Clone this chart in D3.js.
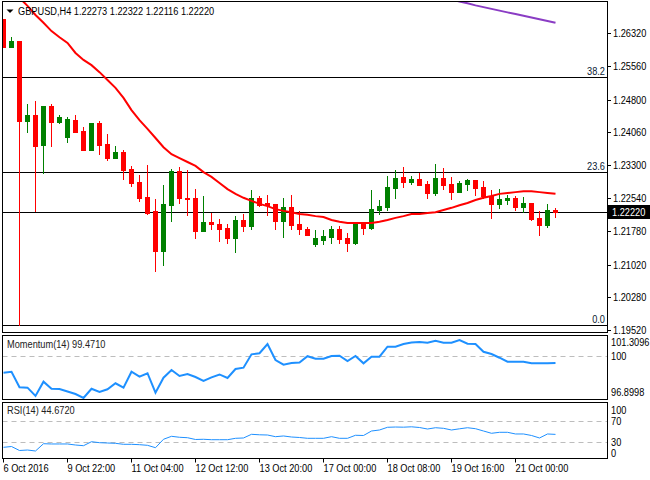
<!DOCTYPE html>
<html>
<head>
<meta charset="utf-8">
<script src="https://cdn.jsdelivr.net/npm/d3@7"></script>
<style>
  body { margin: 0; background: #fff; }
  svg { display: block; font-family: "Liberation Sans", Arial, sans-serif; font-size: 11px; }
</style>
</head>
<body>
<svg width="650" height="480"></svg>
<script>
const svg = d3.select('svg');

// DATA (H4 bars)
const opens = [1.2665,1.2601,1.2614,1.2431,1.2445,1.2376,1.2465,1.2429,1.2394,1.2433,
  1.2408,1.2365,1.2426,1.2378,1.2346,1.2360,1.2321,1.2291,1.2257,1.2225,
  1.2133,1.2238,1.2316,1.2255,1.2255,1.2179,1.2200,1.2195,1.2186,1.2163,
  1.2204,1.2190,1.2255,1.2243,1.2241,1.2202,1.2234,1.2195,1.2183,1.2149,
  1.2158,1.2165,1.2183,1.2163,1.2151,1.2195,1.2186,1.2227,1.2234,1.2277,
  1.2303,1.2291,1.2298,1.2287,1.2266,1.2300,1.2287,1.2268,1.2287,1.2296,
  1.2280,1.2259,1.2241,1.2250,1.2255,1.2234,1.2243,1.2209,1.2193,1.22273];
const highs = [1.2665,1.2623,1.2614,1.2470,1.2477,1.2465,1.2470,1.2445,1.2440,1.2445,
  1.2417,1.2426,1.2431,1.2401,1.2374,1.2365,1.2328,1.2307,1.2330,1.2252,
  1.2284,1.2321,1.2326,1.2319,1.2275,1.2259,1.2220,1.2206,1.2195,1.2213,
  1.2218,1.2273,1.2259,1.2261,1.2241,1.2255,1.2261,1.2225,1.2188,1.2181,
  1.2181,1.2190,1.2190,1.2174,1.2197,1.2195,1.2273,1.2250,1.2305,1.2319,
  1.2326,1.2305,1.2312,1.2293,1.2332,1.2323,1.2303,1.2293,1.2298,1.2296,
  1.2293,1.2273,1.2275,1.2261,1.2259,1.2257,1.2243,1.2225,1.2241,1.22322];
const lows = [1.2601,1.2601,1.1963,1.2406,1.2225,1.2312,1.2374,1.2426,1.2383,1.2406,
  1.2365,1.2365,1.2355,1.2342,1.2346,1.2298,1.2282,1.2248,1.2218,1.2087,
  1.2101,1.2202,1.2243,1.2216,1.2163,1.2179,1.2183,1.2156,1.2151,1.2131,
  1.2179,1.2183,1.2236,1.2216,1.2183,1.2165,1.2183,1.2172,1.2170,1.2145,
  1.2149,1.2151,1.2151,1.2133,1.2149,1.2172,1.2183,1.2218,1.2227,1.2255,
  1.2280,1.2287,1.2284,1.2255,1.2261,1.2275,1.2252,1.2268,1.2273,1.2261,
  1.2255,1.2209,1.2232,1.2241,1.2227,1.2222,1.2204,1.2170,1.2188,1.22116];
const closes = [1.2601,1.2614,1.2431,1.2445,1.2374,1.2465,1.2429,1.2440,1.2436,1.2406,
  1.2365,1.2426,1.2376,1.2346,1.2360,1.2319,1.2289,1.2255,1.2220,1.2133,
  1.2241,1.2316,1.2255,1.2252,1.2179,1.2200,1.2195,1.2183,1.2163,1.2204,
  1.2190,1.2255,1.2238,1.2238,1.2202,1.2234,1.2193,1.2183,1.2170,1.2163,
  1.2167,1.2183,1.2161,1.2151,1.2195,1.2186,1.2229,1.2236,1.2280,1.2300,
  1.2291,1.2298,1.2284,1.2266,1.2300,1.2284,1.2268,1.2289,1.2296,1.2277,
  1.2259,1.2241,1.2252,1.2255,1.2234,1.2243,1.2206,1.2193,1.2227,1.22220];

// moving averages
const maFast = [1.2752,1.2731,1.2713,1.2695,1.2674,1.2656,1.2637,1.2623,1.2610,1.2587,
  1.2571,1.2559,1.2543,1.2525,1.2507,1.2484,1.2456,1.2433,1.2413,1.2392,
  1.2371,1.2355,1.2346,1.2337,1.2328,1.2314,1.2303,1.2289,1.2275,1.2264,
  1.2255,1.2248,1.2241,1.2236,1.2229,1.2225,1.2222,1.2218,1.2216,1.2213,
  1.2211,1.2204,1.2200,1.2197,1.2197,1.2197,1.2197,1.2200,1.2204,1.2209,
  1.2213,1.2218,1.2218,1.2220,1.2222,1.2227,1.2232,1.2238,1.2243,1.2250,
  1.2255,1.2259,1.2264,1.2266,1.2268,1.2270,1.2270,1.2268,1.2266,1.2264];
const maSlowStart = 56;
const maSlow = [1.2709,1.2705,1.2701,1.2696,1.2692,1.2688,1.2684,1.2680,1.2676,1.2672,
  1.2668,1.2664,1.2660,1.2656];

const momentum = [98.76,98.83,97.69,97.66,97.05,98.10,97.58,97.56,97.38,97.19,
  96.90,97.58,97.34,97.54,97.98,97.66,98.83,98.47,98.72,97.29,
  98.39,98.96,98.52,98.66,98.44,98.15,98.42,98.63,98.37,99.03,
  99.13,100.11,100.19,100.87,99.69,99.35,99.47,99.51,99.97,99.79,
  99.79,99.99,100.01,99.62,99.99,99.45,99.94,99.94,100.67,100.67,
  100.87,100.98,101.02,100.96,101.11,100.96,100.96,101.16,100.89,100.87,
  100.30,100.13,99.86,99.57,99.57,99.57,99.45,99.45,99.45,99.471];
const rsi = [20.7,22.2,14.8,15.7,13.9,27.4,26.9,26.9,26.9,25.0,
  23.7,31.1,29.3,28.7,28.1,26.3,26.3,25.6,24.4,20.0,
  35.6,41.1,39.3,38.5,35.2,35.6,34.8,34.8,34.8,37.4,
  38.0,44.8,43.9,43.5,40.4,41.7,39.8,38.9,37.4,37.4,
  37.4,40.4,37.4,37.4,43.0,42.6,50.9,52.8,57.8,58.3,
  58.0,58.7,57.4,54.6,57.0,55.9,52.8,55.0,57.0,55.2,
  50.9,46.7,48.5,48.5,45.4,45.4,42.6,38.0,45.4,44.672];

// fibonacci retracement
const fibLow = 1.1963;
const fibHigh = 1.3450;
const fibLevels = [0.0, 23.6, 38.2];

// axis labels
const priceTicks = [1.26320,1.25560,1.24800,1.24060,1.23300,1.22540,1.21780,1.21020,1.20280,1.19520];
const momTicks = [101.3096, 100, 96.8998];
const rsiTicks = [100, 70, 30, 0];
const timeLabels = ['6 Oct 2016','9 Oct 22:00','11 Oct 04:00','12 Oct 12:00','13 Oct 20:00',
  '17 Oct 00:00','18 Oct 08:00','19 Oct 16:00','21 Oct 00:00'];
const timeBars = [0, 8, 16, 24, 32, 40, 48, 56, 64];

// LAYOUT
const left = 2.5, right = 607.5;
const mainTop = 1.5, mainBottom = 332.5;
const momTop = 335.5, momBottom = 399.5;
const rsiTop = 402.5, rsiBottom = 458.5;
const last = closes.length - 1;
const squeeze = 0.84; // narrow terminal font

const x = d3.scaleLinear().domain([0, last]).range([3.5, 3.5 + 8 * last]);
const y = d3.scaleLinear().domain([priceTicks[priceTicks.length - 1], priceTicks[0]]).range([330, 33.3]);
const yMom = d3.scaleLinear().domain([momTicks[2], momTicks[0]]).range([398, 338]);
const yRsi = d3.scaleLinear().domain([0, 100]).range([458.5, 404.5]);

function label(parent, tx, ty, str, fill, anchor, dy) {
  return parent.append('text')
    .attr('transform', `translate(${tx},${ty}) scale(${squeeze},1)`)
    .attr('text-anchor', anchor || 'start')
    .attr('dy', dy || 0)
    .attr('fill', fill || '#000')
    .text(str);
}

const defs = svg.append('defs');
function clip(id, y0, y1) {
  defs.append('clipPath').attr('id', id)
    .append('rect')
      .attr('x', left + 0.5).attr('y', y0 + 0.5)
      .attr('width', right - left - 1).attr('height', y1 - y0 - 1);
}
clip('cMain', mainTop, mainBottom);
clip('cMom', momTop, momBottom);
clip('cRsi', rsiTop, rsiBottom);

// MAIN PANEL
const main = svg.append('g').attr('clip-path', 'url(#cMain)');

// fib lines + bid line
fibLevels.forEach(lv => {
  const yy = Math.round(y(fibLow + (fibHigh - fibLow) * lv / 100)) + 0.5;
  main.append('line')
    .attr('x1', left).attr('x2', right).attr('y1', yy).attr('y2', yy)
    .attr('stroke', '#000').attr('stroke-width', 1);
  label(main, right - 2.5, yy - 2.5, lv.toFixed(1), '#0a1a33', 'end');
});
const bidY = Math.round(y(closes[last])) + 0.5;
main.append('line')
  .attr('x1', left).attr('x2', right).attr('y1', bidY).attr('y2', bidY)
  .attr('stroke', '#000').attr('stroke-width', 1);

// candles
const bars = main.append('g').attr('shape-rendering', 'crispEdges');
closes.forEach((c, i) => {
  const o = opens[i];
  const col = c > o ? '#008000' : '#ff0000';
  const hi = Math.round(y(highs[i])), lo = Math.round(y(lows[i]));
  bars.append('rect')
    .attr('x', x(i) - 0.5).attr('width', 1)
    .attr('y', hi).attr('height', Math.max(1, lo - hi + 1))
    .attr('fill', col);
  const bt = Math.round(y(Math.max(o, c))), bb = Math.round(y(Math.min(o, c)));
  bars.append('rect')
    .attr('x', x(i) - 2.5).attr('width', 5)
    .attr('y', bt).attr('height', Math.max(1, bb - bt + 1))
    .attr('fill', col);
});

// moving averages
const priceLine = d3.line().x(d => x(d[0])).y(d => y(d[1]));
main.append('path')
  .attr('d', priceLine(maFast.map((v, i) => [i, v])))
  .attr('fill', 'none').attr('stroke', '#ff0000').attr('stroke-width', 2);
main.append('path')
  .attr('d', priceLine(maSlow.map((v, i) => [i + maSlowStart, v])))
  .attr('fill', 'none').attr('stroke', '#8a3cc4').attr('stroke-width', 2);

// title
svg.append('path').attr('d', 'M6.5,9.5 L13.5,9.5 L10,13 Z').attr('fill', '#000');
const f5 = d3.format('.5f');
label(svg, 18, 15, `GBPUSD,H4  ${f5(opens[last])} ${f5(highs[last])} ${f5(lows[last])} ${f5(closes[last])}`);

// price axis
priceTicks.forEach(p => {
  const yy = Math.round(y(p)) + 0.5;
  svg.append('line').attr('x1', right).attr('x2', right + 3.5).attr('y1', yy).attr('y2', yy)
    .attr('stroke', '#000');
  label(svg, 613, yy, p.toFixed(5), '#000', 'start', '0.35em');
});
svg.append('rect').attr('x', 608).attr('y', bidY - 7.5).attr('width', 42).attr('height', 14)
  .attr('fill', '#000');
label(svg, 612, bidY, f5(closes[last]), '#fff', 'start', '0.35em');

// MOMENTUM PANEL
const mom = svg.append('g').attr('clip-path', 'url(#cMom)');
const m100 = Math.round(yMom(100)) + 0.5;
mom.append('line').attr('x1', left).attr('x2', right).attr('y1', m100).attr('y2', m100)
  .attr('stroke', '#bdbdbd').attr('stroke-dasharray', '5,4');
mom.append('path')
  .attr('d', d3.line().x((d, i) => x(i)).y(d => yMom(d))(momentum))
  .attr('fill', 'none').attr('stroke', '#1e90ff').attr('stroke-width', 2);
label(svg, 7, 348, `Momentum(14) ${d3.format('.4f')(momentum[last])}`, '#222');
label(svg, 611, 346, momTicks[0].toFixed(4));
label(svg, 611, m100, String(momTicks[1]), '#000', 'start', '0.35em');
label(svg, 611, 396, momTicks[2].toFixed(4));

// RSI PANEL
const rs = svg.append('g').attr('clip-path', 'url(#cRsi)');
[70, 30].forEach(v => {
  const yy = Math.round(yRsi(v)) + 0.5;
  rs.append('line').attr('x1', left).attr('x2', right).attr('y1', yy).attr('y2', yy)
    .attr('stroke', '#bdbdbd').attr('stroke-dasharray', '5,4');
});
rs.append('path')
  .attr('d', d3.line().x((d, i) => x(i)).y(d => yRsi(d))(rsi))
  .attr('fill', 'none').attr('stroke', '#1e90ff').attr('stroke-width', 1);
label(svg, 7, 414, `RSI(14) ${d3.format('.4f')(rsi[last])}`, '#222');
const rsiLabelY = [414, Math.round(yRsi(70)) + 4, Math.round(yRsi(30)) + 4, 457];
rsiTicks.forEach((v, k) => label(svg, 611, rsiLabelY[k], String(v)));

// FRAMES
[[mainTop, mainBottom], [momTop, momBottom], [rsiTop, rsiBottom]].forEach(([t, b]) => {
  svg.append('rect')
    .attr('x', left).attr('y', t).attr('width', right - left).attr('height', b - t)
    .attr('fill', 'none').attr('stroke', '#000').attr('stroke-width', 1);
});

// TIME AXIS
timeBars.forEach((b, k) => {
  const xx = Math.round(x(b)) - 0.5;
  svg.append('line').attr('x1', xx).attr('x2', xx).attr('y1', rsiBottom).attr('y2', rsiBottom + 4)
    .attr('stroke', '#000');
  label(svg, xx, 472, timeLabels[k]);
});
</script>
</body>
</html>
